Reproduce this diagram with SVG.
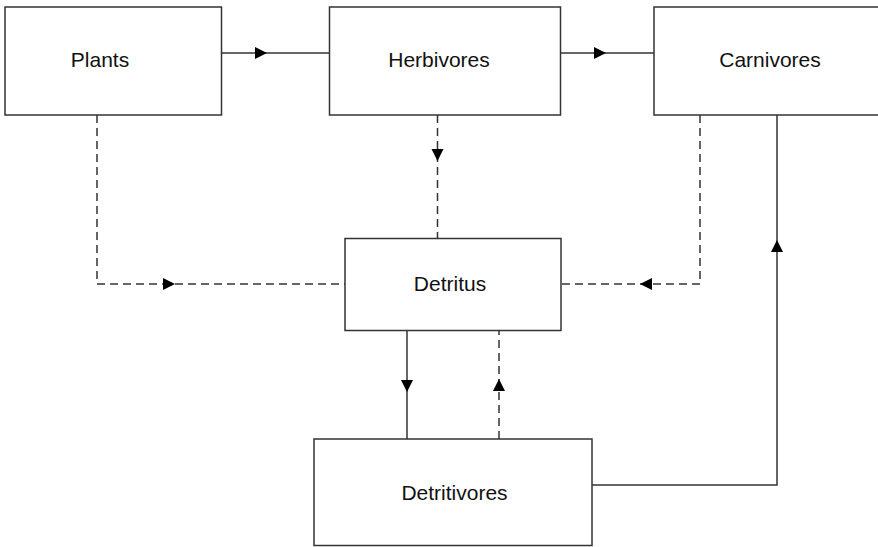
<svg xmlns="http://www.w3.org/2000/svg" width="878" height="547" viewBox="0 0 878 547">
<style>
.box{fill:#fff;stroke:#333;stroke-width:1.5}
.lbl{font-family:"Liberation Sans",Arial,sans-serif;font-size:21px;fill:#111;text-anchor:middle}
.ln{fill:none;stroke:#333;stroke-width:1.5}
.dash{stroke-dasharray:8 5}
.ah{fill:#000}
</style>
<g id="connectors">
<path class="ln" d="M221.5,53 H329.5"/>
<path class="ah" d="M255,47 L267,53 L255,59 Z"/>
<path class="ln" d="M560.5,53 H654"/>
<path class="ah" d="M594,47 L606,53 L594,59 Z"/>
<path class="ln dash" d="M97,115 V284 H345"/>
<path class="ah" d="M163,278 L175,284 L163,290 Z"/>
<path class="ln dash" d="M700,115 V284 H561"/>
<path class="ah" d="M652,278 L640,284 L652,290 Z"/>
<path class="ln dash" d="M437.5,115 V238"/>
<path class="ah" d="M431.5,149 L437.5,161 L443.5,149 Z"/>
<path class="ln" d="M407,330.5 V439"/>
<path class="ah" d="M401,380 L407,392 L413,380 Z"/>
<path class="ln dash" d="M499,439 V330.5"/>
<path class="ah" d="M493,391 L499,379 L505,391 Z"/>
<path class="ln" d="M592,485 H777 V115"/>
<path class="ah" d="M771,252 L777,240 L783,252 Z"/>
</g>
<g id="plants"><rect class="box" x="5" y="7" width="216.5" height="108"/><text class="lbl" x="100" y="67">Plants</text></g>
<g id="herbivores"><rect class="box" x="329.5" y="7" width="231" height="108"/><text class="lbl" x="439" y="67">Herbivores</text></g>
<g id="carnivores"><rect class="box" x="654" y="7" width="230" height="108"/><text class="lbl" x="770" y="67">Carnivores</text></g>
<g id="detritus"><rect class="box" x="345" y="238.5" width="216" height="92"/><text class="lbl" x="450" y="291">Detritus</text></g>
<g id="detritivores"><rect class="box" x="314" y="439" width="278" height="106.5"/><text class="lbl" x="454.5" y="500">Detritivores</text></g>
</svg>
